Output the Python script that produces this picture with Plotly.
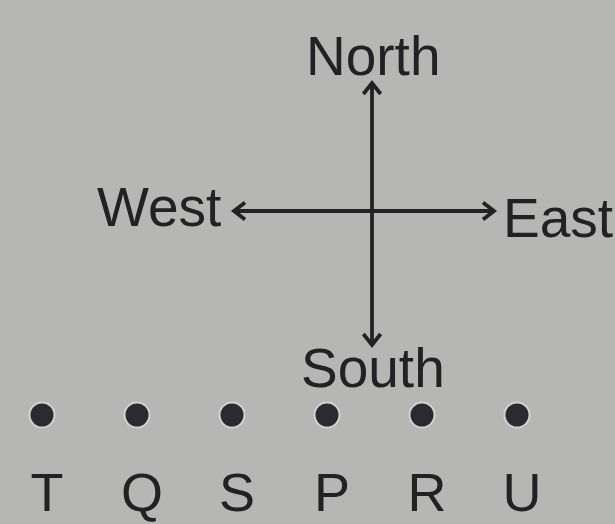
import math
import plotly.graph_objects as go

# Data
points = ["T", "Q", "S", "P", "R", "U"]
point_pos = [0, 1, 2, 3, 4, 5]
directions = ["North", "South", "West", "East"]

W, H = 615, 524
unit = 95.0          # pixels per data unit
x0_px = 42.0         # pixel of x = 0

def X(px):
    return (px - x0_px) / unit

def Y(py):
    return (H - py) / unit

bg = "#b6b6b4"
ink = "#222225"
FONT = "Liberation Sans, Arial"

fig = go.Figure()

# dots
fig.add_trace(go.Scatter(
    x=point_pos, y=[Y(415)] * len(points), mode="markers",
    marker=dict(size=25, color="#2a2a30", line=dict(width=2, color="#d2d2d2")),
    hoverinfo="skip", showlegend=False))
# letters (slightly right of the dots, as in the picture)
fig.add_trace(go.Scatter(
    x=[p + 5.0 / unit for p in point_pos], y=[Y(497)] * len(points),
    mode="text", text=points,
    textfont=dict(family=FONT, size=54, color=ink),
    hoverinfo="skip", showlegend=False))

cx, cy = X(372), Y(211)
tips = {"North": (cx, Y(83)), "South": (cx, Y(345)),
        "West": (X(234), cy), "East": (X(494), cy)}

# axis lines
fig.add_trace(go.Scatter(x=[tips["West"][0], tips["East"][0]], y=[cy, cy],
                         mode="lines", line=dict(color=ink, width=3.8),
                         hoverinfo="skip", showlegend=False))
fig.add_trace(go.Scatter(x=[cx, cx], y=[tips["South"][1], tips["North"][1]],
                         mode="lines", line=dict(color=ink, width=3.8),
                         hoverinfo="skip", showlegend=False))
# open chevron heads
head = 14.0 / unit
ang = math.radians(38)
for d in directions:
    tx, ty = tips[d]
    dx, dy = tx - cx, ty - cy
    n = math.hypot(dx, dy)
    ux, uy = dx / n, dy / n
    xs, ys = [], []
    for s in (1, -1):
        c, sn = math.cos(s * ang), math.sin(s * ang)
        bx = -(ux * c - uy * sn)
        by = -(ux * sn + uy * c)
        xs.append(tx + head * bx)
        ys.append(ty + head * by)
    fig.add_trace(go.Scatter(x=[xs[0], tx, xs[1]], y=[ys[0], ty, ys[1]],
                             mode="lines", line=dict(color=ink, width=3.8),
                             hoverinfo="skip", showlegend=False))

label_pos = {"North": (X(373), Y(56), "center"),
             "South": (X(373), Y(368), "center"),
             "West": (X(223), Y(207), "right"),
             "East": (X(501), Y(218), "left")}
for d in directions:
    lx, ly, anc = label_pos[d]
    fig.add_annotation(x=lx, y=ly, xref="x", yref="y", text=d, showarrow=False,
                       xanchor=anc, yanchor="middle",
                       font=dict(family=FONT, size=55, color=ink))

fig.update_layout(
    width=W, height=H, margin=dict(l=0, r=0, t=0, b=0),
    paper_bgcolor=bg, plot_bgcolor=bg,
    xaxis=dict(range=[X(0), X(W)], visible=False, fixedrange=True),
    yaxis=dict(range=[Y(H), Y(0)], visible=False, fixedrange=True),
)

fig.write_html("out.html", config={"displayModeBar": False},
               post_script="document.body.style.margin='0';document.body.style.overflow='hidden';")
